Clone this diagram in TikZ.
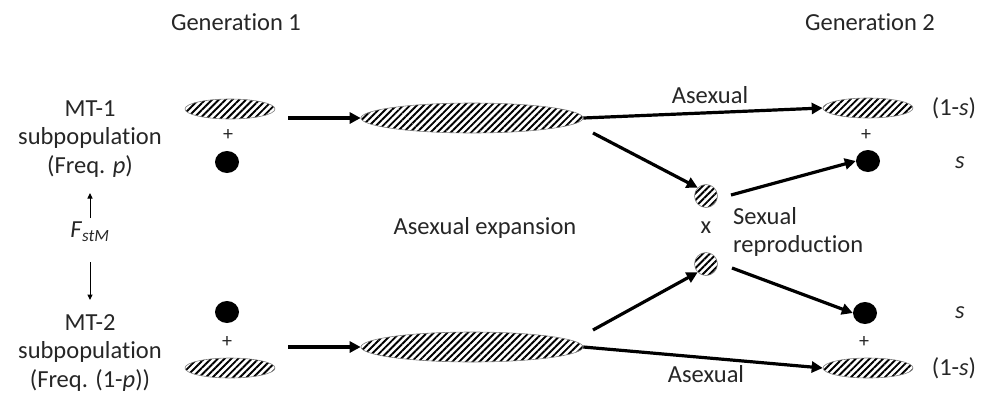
\documentclass[tikz,border=0pt]{standalone}
\usepackage{fontspec}
\setmainfont{Carlito}[Ligatures=NoCommon]
\usetikzlibrary{shapes.geometric,arrows.meta,patterns.meta}
\begin{document}
\begin{tikzpicture}[x=1pt,y=-1pt,
  txt/.style={font=\fontsize{24.5}{28}\selectfont, inner sep=0pt, text=black!85},
  plus/.style={font=\fontsize{20}{24}\selectfont, inner sep=0pt, text=black!85},
  hatch/.style={ellipse, draw=gray, line width=0.6pt, inner sep=0pt,
     pattern={Lines[angle=45,distance=4.8pt,line width=1.9pt]}},
  small/.style={hatch, minimum width=90pt, minimum height=20pt},
  big/.style={hatch, minimum width=222pt, minimum height=30pt},
  ball/.style={hatch, minimum width=23pt, minimum height=23pt},
  dot/.style={ellipse, fill=black, inner sep=0pt, minimum width=24pt, minimum height=22pt},
  thick arrow/.style={line width=3.2pt, -{Triangle[length=11pt,width=11pt]}},
  thin arrow/.style={line width=1pt, -{Triangle[length=5.5pt,width=5pt]}}
]
\useasboundingbox (0,0) rectangle (989,400);

% headings
\node[txt] (g1) at (236,22) {Generation 1};
\node[txt] (g2) at (870,22) {Generation 2};

% left labels
\node[txt] (mt1a) at (90,109) {MT-1};
\node[txt] (mt1b) at (90,138) {subpopulation};
\node[txt] (mt1c) at (90,167) {(Freq. \textit{p})};
\node[txt] (fst) at (90,232) {\textit{F}\textsubscript{\textit{stM}}};
\coordinate (upS) at (90,218);
\coordinate (upE) at (90,193);
\coordinate (dnS) at (90,262);
\coordinate (dnE) at (90,300);
\draw[thin arrow] (upS) -- (upE);
\draw[thin arrow] (dnS) -- (dnE);
\node[txt] (mt2a) at (90,323) {MT-2};
\node[txt] (mt2b) at (90,352) {subpopulation};
\node[txt] (mt2c) at (90,381) {(Freq. (1-\textit{p}))};

% generation 1
\node[small] (e1) at (230,109) {};
\node[plus] (p1) at (228,135) {+};
\node[dot] (d1) at (227,162) {};
\node[dot] (d2) at (227,312) {};
\node[plus] (p2) at (227,342) {+};
\node[small] (e2) at (230,368) {};

% expansion
\node[big] (b1) at (472,118) {};
\node[big] (b2) at (472,347) {};
\coordinate (a1s) at (288,118);
\coordinate (a2s) at (288,347);
\draw[thick arrow] (a1s) -- (b1.west);
\draw[thick arrow] (a2s) -- (b2.west);
\node[txt] (ae) at (485,228) {Asexual expansion};

% generation 2
\node[small] (f1) at (868,108) {};
\node[plus] (q1) at (866,135) {+};
\node[dot] (h1) at (868,161) {};
\node[dot] (h2) at (865,313) {};
\node[plus] (q2) at (864,342) {+};
\node[small] (f2) at (868,368) {};

\node[txt] (r1) at (954,108) {(1-\textit{s})};
\node[txt] (s1) at (960,163) {\textit{s}};
\node[txt] (s2) at (960,313) {\textit{s}};
\node[txt] (r2) at (954,368) {(1-\textit{s})};

% sexual
\node[ball] (c1) at (706,196) {};
\node[txt] (x) at (706,228) {x};
\node[ball] (c2) at (706,264) {};
\node[txt, anchor=west] (sx1) at (733,216) {Sexual};
\node[txt, anchor=west] (sx2) at (733,246) {reproduction};

% arrows right
\draw[thick arrow] (b1.east) -- (f1.west);
\node[txt] (as1) at (710,95) {Asexual};
\draw[thick arrow] (b2.east) -- (f2.west);
\node[txt] (as2) at (706,374) {Asexual};

\coordinate (k1) at (593,133);
\coordinate (k2) at (593,330);
\draw[thick arrow] (k1) -- (c1.north west);
\draw[thick arrow] (k2) -- (c2.south west);
\coordinate (m1) at (731,195);
\coordinate (m2) at (732,268);
\draw[thick arrow] (m1) -- (h1.west);
\draw[thick arrow] (m2) -- (h2.west);
\end{tikzpicture}
\end{document}
